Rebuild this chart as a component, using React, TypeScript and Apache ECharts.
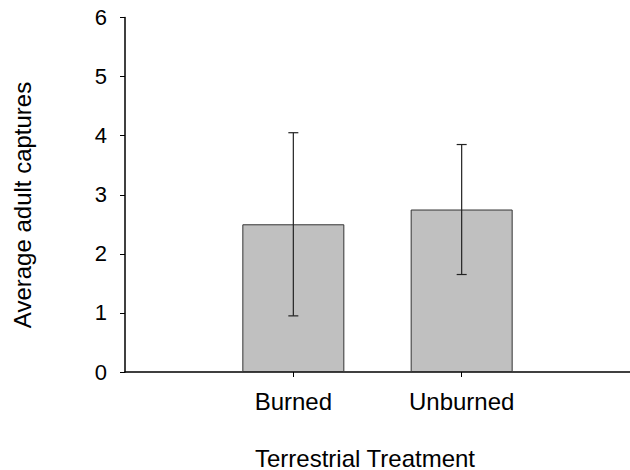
import React, { useEffect, useRef } from "react";
import * as echarts from "echarts";

const categories = ["", "Burned", "Unburned", ""];
const means = [null, 2.5, 2.75, null];
const errLow = [0.95, 1.65];
const errHigh = [4.05, 3.85];
const errIndex = [1, 2];
const yMin = 0;
const yMax = 6;
const yInterval = 1;
const xTitle = "Terrestrial Treatment";
const yTitle = "Average adult captures";

const FONT = "'Liberation Sans', Arial, sans-serif";

export default function App() {
  const ref = useRef<HTMLDivElement>(null);
  useEffect(() => {
    if (!ref.current) return;
    const chart = echarts.init(ref.current, null, { renderer: "svg" });
    const errData = errIndex.map((idx, i) => [idx, errLow[i], errHigh[i]]);
    chart.setOption({
      animation: false,
      backgroundColor: "#ffffff",
      grid: { left: 125, top: 17.5, width: 514, height: 354.5, containLabel: false },
      xAxis: {
        type: "category",
        data: categories,
        boundaryGap: false,
        axisLine: { lineStyle: { color: "#000", width: 1.5 } },
        axisTick: {
          length: 5,
          interval: (i: number) => i === 1 || i === 2,
          lineStyle: { color: "#000", width: 1 },
        },
        axisLabel: {
          interval: (i: number) => i === 1 || i === 2,
          fontSize: 24,
          fontFamily: FONT,
          color: "#000",
          margin: 17,
        },
        splitLine: { show: false },
      },
      yAxis: {
        type: "value",
        min: yMin,
        max: yMax,
        interval: yInterval,
        axisLine: { show: true, lineStyle: { color: "#000", width: 1.5 } },
        axisTick: { show: true, length: 5, lineStyle: { color: "#000", width: 1 } },
        axisLabel: { fontSize: 22, fontFamily: FONT, color: "#000", margin: 18 },
        splitLine: { show: false },
      },
      graphic: [
        {
          type: "text",
          x: 365,
          y: 458,
          style: {
            text: xTitle,
            fontSize: 24,
            fontFamily: FONT,
            fill: "#000",
            align: "center",
            verticalAlign: "middle",
          },
        },
        {
          type: "text",
          x: 22,
          y: 205,
          rotation: Math.PI / 2,
          style: {
            text: yTitle,
            fontSize: 24,
            fontFamily: FONT,
            fill: "#000",
            align: "center",
            verticalAlign: "middle",
          },
        },
      ],
      series: [
        {
          type: "bar",
          data: means,
          barWidth: 102,
          itemStyle: { color: "#c0c0c0", borderColor: "#333", borderWidth: 1 },
          z: 2,
        },
        {
          type: "custom",
          data: errData,
          z: 3,
          renderItem: (params: any, api: any) => {
            const x = api.value(0);
            const lo = api.coord([x, api.value(1)]);
            const hi = api.coord([x, api.value(2)]);
            const half = 5;
            const style = { stroke: "#222", lineWidth: 1.2 };
            return {
              type: "group",
              children: [
                { type: "line", shape: { x1: lo[0], y1: lo[1], x2: hi[0], y2: hi[1] }, style },
                { type: "line", shape: { x1: hi[0] - half, y1: hi[1], x2: hi[0] + half, y2: hi[1] }, style },
                { type: "line", shape: { x1: lo[0] - half, y1: lo[1], x2: lo[0] + half, y2: lo[1] }, style },
              ],
            };
          },
        },
      ],
    });
    return () => chart.dispose();
  }, []);
  return (
    <div
      ref={ref}
      style={{ position: "fixed", left: 0, top: 0, width: 630, height: 470, background: "#fff" }}
    />
  );
}
